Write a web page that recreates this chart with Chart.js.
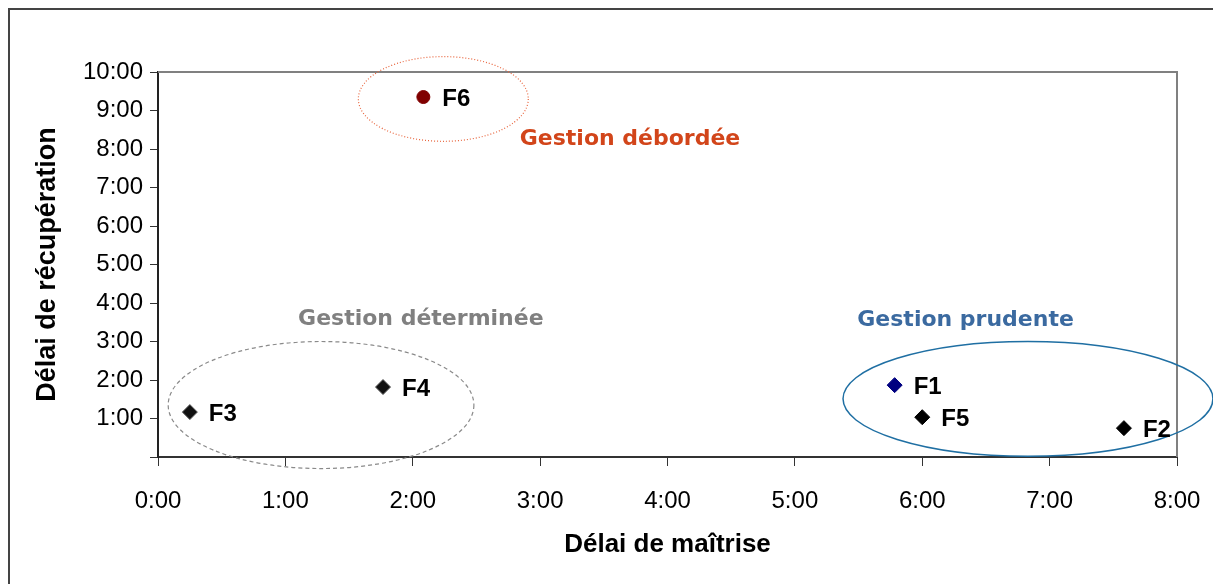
<!DOCTYPE html>
<html><head><meta charset="utf-8">
<script src="https://cdn.jsdelivr.net/npm/chart.js@4.4.0/dist/chart.umd.min.js"></script>
<style>html,body{margin:0;padding:0;background:#fff;overflow:hidden}#wrap{width:1213px;height:584px;position:relative}</style>
</head><body><div id="wrap"><canvas id="c" width="1213" height="584"></canvas></div>
<script>
// ---- data ----
const pointLabels = ['F1', 'F2', 'F3', 'F4', 'F5', 'F6'];
const delaiMaitrise = ['5:47', '7:35', '0:15', '1:46', '6:00', '2:05'];
const delaiRecuperation = ['1:52', '0:45', '1:10', '1:49', '1:02', '9:21'];
const xTickLabels = ['0:00', '1:00', '2:00', '3:00', '4:00', '5:00', '6:00', '7:00', '8:00'];
const yTickLabels = ['0:00', '1:00', '2:00', '3:00', '4:00', '5:00', '6:00', '7:00', '8:00', '9:00', '10:00'];
const groupNames = ['Gestion débordée', 'Gestion déterminée', 'Gestion prudente'];
const xTitle = 'Délai de maîtrise';
const yTitle = 'Délai de récupération';

function toHours(s) { const [h, m] = s.split(':').map(Number); return h + m / 60; }

// group annotation placement (in axis units, hours)
const groupEllipses = [
  { cx: 2.24, cy: 9.30, rx: 0.667, ry: 1.10, color: '#e8643c', dash: [1, 2], width: 1.2 },
  { cx: 1.28, cy: 1.35, rx: 1.20, ry: 1.65, color: '#8a8a8a', dash: [4, 3], width: 1.2 },
  { cx: 6.83, cy: 1.51, rx: 1.452, ry: 1.49, color: '#1f6fa3', dash: [], width: 1.5 }
];
const groupTexts = [
  { x: 2.84, y: 8.25, color: '#d2451a' },
  { x: 1.10, y: 3.57, color: '#808080' },
  { x: 5.49, y: 3.55, color: '#3b6aa0' }
];

const pts = delaiMaitrise.map((v, i) => ({ x: toHours(v), y: toHours(delaiRecuperation[i]) }));

const decorPlugin = {
  id: 'decor',
  afterDraw(chart) {
    const ctx = chart.ctx;
    const xs = chart.scales.x, ys = chart.scales.y;
    const ca = chart.chartArea;
    ctx.save();
    // top & right plot frame (grey)
    ctx.strokeStyle = '#808080';
    ctx.lineWidth = 2;
    ctx.beginPath();
    ctx.moveTo(ca.left, ca.top);
    ctx.lineTo(ca.right, ca.top);
    ctx.lineTo(ca.right, ca.bottom);
    ctx.stroke();
    // outer border
    ctx.strokeStyle = '#444';
    ctx.lineWidth = 2;
    ctx.strokeRect(9, 9, 1400, 800);
    // ellipses
    groupEllipses.forEach(e => {
      const cx = xs.getPixelForValue(e.cx), cy = ys.getPixelForValue(e.cy);
      const rx = Math.abs(xs.getPixelForValue(e.cx + e.rx) - cx);
      const ry = Math.abs(ys.getPixelForValue(e.cy + e.ry) - cy);
      ctx.beginPath();
      ctx.setLineDash(e.dash);
      ctx.strokeStyle = e.color;
      ctx.lineWidth = e.width;
      ctx.ellipse(cx, cy, rx, ry, 0, 0, Math.PI * 2);
      ctx.stroke();
    });
    ctx.setLineDash([]);
    // group titles
    ctx.font = 'bold 22px "DejaVu Sans"';
    ctx.textBaseline = 'middle';
    ctx.textAlign = 'left';
    groupTexts.forEach((t, i) => {
      ctx.fillStyle = t.color;
      ctx.fillText(groupNames[i], xs.getPixelForValue(t.x), ys.getPixelForValue(t.y));
    });
    // point labels
    const meta = chart.getDatasetMeta(0);
    ctx.font = 'bold 24px "Liberation Sans", Arial, sans-serif';
    ctx.fillStyle = '#000';
    meta.data.forEach((el, i) => {
      ctx.fillText(pointLabels[i], el.x + 19, el.y + 2);
    });
    ctx.restore();
  }
};

new Chart(document.getElementById('c'), {
  type: 'scatter',
  data: {
    datasets: [{
      data: pts,
      pointStyle: ['rectRot', 'rectRot', 'rectRot', 'rectRot', 'rectRot', 'circle'],
      pointRadius: [7.5, 7.5, 7.5, 7.5, 7.5, 6.5],
      backgroundColor: ['#000080', '#000', '#111', '#111', '#000', '#800000'],
      borderColor: ['#000080', '#000', '#555', '#555', '#000', '#800000'],
      borderWidth: 1
    }]
  },
  options: {
    responsive: false,
    animation: false,
    devicePixelRatio: 1,
    layout: { padding: { top: 72, right: 36, left: 0, bottom: 0 } },
    plugins: { legend: { display: false }, tooltip: { enabled: false } },
    scales: {
      x: {
        type: 'linear', min: 0, max: 8,
        afterFit(s) { s.height = 127; s.paddingLeft = 0; s.paddingRight = 0; },
        ticks: {
          stepSize: 1, padding: 21, color: '#000',
          font: { family: '"Liberation Sans", Arial, sans-serif', size: 24 },
          callback: v => xTickLabels[v]
        },
        grid: { drawOnChartArea: false, drawTicks: true, tickLength: 9, color: '#333', lineWidth: 1 },
        border: { display: true, color: '#333', width: 2 },
        title: {
          display: true, text: xTitle, color: '#000',
          font: { family: '"Liberation Sans", Arial, sans-serif', size: 26, weight: 'bold' },
          padding: { top: 0, bottom: 24 }
        }
      },
      y: {
        type: 'linear', min: 0, max: 10,
        afterFit(s) { s.width = 158; s.paddingTop = 0; s.paddingBottom = 0; },
        ticks: {
          stepSize: 1, padding: 7, color: '#000',
          font: { family: '"Liberation Sans", Arial, sans-serif', size: 24 },
          callback: v => (v === 0 ? '' : yTickLabels[v])
        },
        grid: { drawOnChartArea: false, drawTicks: true, tickLength: 8, color: '#333', lineWidth: 1 },
        border: { display: true, color: '#222', width: 2 },
        title: {
          display: true, text: yTitle, color: '#000',
          font: { family: '"Liberation Sans", Arial, sans-serif', size: 27, weight: 'bold' },
          padding: { top: 31, bottom: 0 }
        }
      }
    }
  },
  plugins: [decorPlugin]
});
</script></body></html>
